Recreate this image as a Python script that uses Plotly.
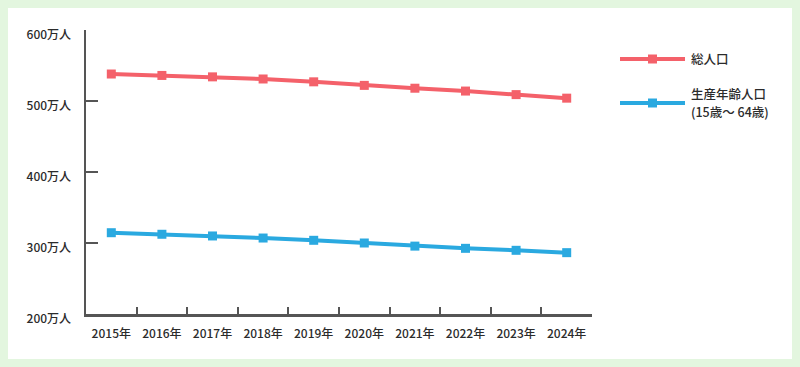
import plotly.graph_objects as go

years = ["2015年", "2016年", "2017年", "2018年", "2019年", "2020年", "2021年", "2022年", "2023年", "2024年"]
total_pop = [538, 536, 534, 531, 527, 522, 518, 514, 509, 504]
working_pop = [314.5, 312.3, 309.9, 307, 303.8, 300, 295.6, 292.5, 289.7, 286.4]
y_ticks = [200, 300, 400, 500, 600]
y_tick_labels = ["200万人", "300万人", "400万人", "500万人", "600万人"]
legend_total = ["総人口"]
legend_working = ["生産年齢人口", "(15歳～ 64歳)"]

RED = "#f4616a"
BLUE = "#2aa9e0"
AXIS = "#555555"
TXT = "#2b2b2b"
FONT = "Noto Sans CJK JP"

W, H = 800, 367
L, R, T, B = 86, 208, 30, 53
PW, PH = W - L - R, H - T - B


def px_x(p):
    return (p - L) / PW


def px_y(p):
    return (H - B - p) / PH


fig = go.Figure()
for name, vals, col in [(legend_total[0], total_pop, RED), (" ".join(legend_working), working_pop, BLUE)]:
    fig.add_trace(go.Scatter(
        x=years, y=vals, mode="lines+markers", name=name,
        line=dict(color=col, width=4),
        marker=dict(symbol="square", size=9, color=col),
        showlegend=False, cliponaxis=False, hoverinfo="skip",
    ))

shapes = [
    dict(type="rect", xref="paper", yref="paper", layer="below",
         x0=px_x(8), x1=px_x(792), y0=px_y(359), y1=px_y(8),
         fillcolor="white", line=dict(width=0)),
]
annotations = []
legend_font = dict(family=FONT, size=12.5, color=TXT, weight=500)
for lines, col, ypix, text_ys in [(legend_total, RED, 59, [59]), (legend_working, BLUE, 103, [93.5, 112])]:
    shapes.append(dict(type="line", xref="paper", yref="paper",
                       x0=px_x(620), x1=px_x(685), y0=px_y(ypix), y1=px_y(ypix),
                       line=dict(color=col, width=4)))
    shapes.append(dict(type="rect", xref="paper", yref="paper",
                       x0=px_x(648), x1=px_x(657), y0=px_y(ypix + 4.5), y1=px_y(ypix - 4.5),
                       fillcolor=col, line=dict(width=0)))
    for txt, ty in zip(lines, text_ys):
        annotations.append(dict(xref="paper", yref="paper", x=px_x(690), y=px_y(ty),
                                xanchor="left", yanchor="middle", align="left",
                                borderpad=0, text=txt, showarrow=False, font=legend_font))

fig.update_layout(
    width=W, height=H,
    margin=dict(l=L, r=R, t=T, b=B, pad=0),
    paper_bgcolor="#e3f6df",
    plot_bgcolor="rgba(0,0,0,0)",
    shapes=shapes,
    annotations=annotations,
    showlegend=False,
    hovermode=False,
    font=dict(family=FONT, size=12, color=TXT),
)
tick_font = dict(family=FONT, size=12, color=TXT, weight=500)
fig.update_xaxes(
    type="category", range=[-0.5, 9.5],
    showgrid=False, zeroline=False,
    showline=True, linecolor=AXIS, linewidth=2.5,
    ticks="inside", tickson="boundaries", ticklen=7, tickwidth=2, tickcolor=AXIS,
    tickfont=tick_font,
    ticklabelstandoff=7,
)
fig.update_yaxes(
    range=[200, 600], tickvals=y_ticks, ticktext=y_tick_labels,
    showgrid=False, zeroline=False,
    showline=True, linecolor=AXIS, linewidth=2.5,
    ticks="inside", ticklen=12, tickwidth=2, tickcolor=AXIS,
    tickfont=tick_font,
    ticklabelstandoff=10, ticklabelshift=5,
)

fig.write_html("out.html", config={"displayModeBar": False, "staticPlot": True},
               post_script="document.body.style.margin='0';document.body.style.padding='0';")
